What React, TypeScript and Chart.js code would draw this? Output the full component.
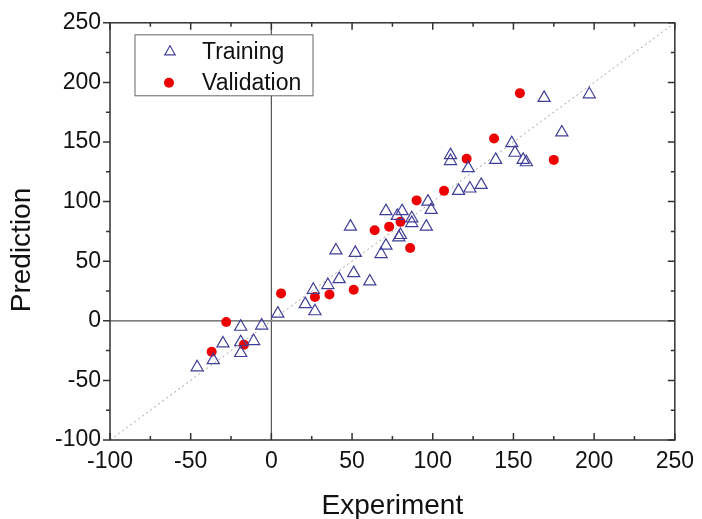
import { useEffect, useRef } from 'react';
import { Chart, registerables } from 'chart.js';

Chart.register(...registerables);

const seriesNames = ['Training', 'Validation'];
const xTitle = 'Experiment';
const yTitle = 'Prediction';

const trainingX = [-46, -36, -30, -19, -19, -19, -11, -6, 4, 21, 27, 26, 35, 42, 40, 49, 51, 61, 52, 68, 71, 79, 80, 71, 78, 81, 87, 87, 96, 99, 97, 169, 197, 180, 149, 151, 156, 158, 139, 111, 111, 122, 116, 123, 130];
const trainingY = [-39, -33, -19, -5, -18, -27, -17, -4, 6, 14, 8, 26, 30, 35, 59, 79, 40, 33, 57, 56, 63, 70, 72, 92, 88, 92, 86, 82, 79, 93, 100, 187, 190, 158, 149, 141, 135, 133, 135, 139, 134, 128, 109, 111, 114];

const validationX = [-28, -37, -17, 6, 27, 36, 51, 64, 73, 80, 86, 90, 107, 121, 138, 154, 175];
const validationY = [-1, -26, -20, 23, 20, 22, 26, 76, 79, 83, 61, 101, 109, 136, 153, 191, 135];

const identityLine = [-100, 250];

const axisMin = -100;
const axisMax = 250;
const minorStep = 25;
const majorStep = 50;

const FONT = '"Liberation Sans", Arial, sans-serif';

const decorPlugin = {
  id: 'decor',
  beforeDatasetsDraw(chart: any) {
    const { ctx, chartArea: ca, scales } = chart;
    const x0 = scales.x.getPixelForValue(0);
    const y0 = scales.y.getPixelForValue(0);
    ctx.save();
    ctx.strokeStyle = '#555';
    ctx.lineWidth = 1.2;
    ctx.beginPath();
    ctx.moveTo(x0, ca.top);
    ctx.lineTo(x0, ca.bottom);
    ctx.moveTo(ca.left, y0);
    ctx.lineTo(ca.right, y0);
    ctx.stroke();
    ctx.restore();
  },
  afterDraw(chart: any) {
    const { ctx, chartArea: ca, scales } = chart;
    ctx.save();
    ctx.strokeStyle = '#333';
    ctx.lineWidth = 1.5;
    ctx.strokeRect(ca.left, ca.top, ca.right - ca.left, ca.bottom - ca.top);
    ctx.beginPath();
    for (let v = axisMin; v <= axisMax; v += minorStep) {
      const len = v % majorStep === 0 ? 7 : 4;
      const px = scales.x.getPixelForValue(v);
      const py = scales.y.getPixelForValue(v);
      ctx.moveTo(px, ca.bottom);
      ctx.lineTo(px, ca.bottom - len);
      ctx.moveTo(px, ca.top);
      ctx.lineTo(px, ca.top + len);
      ctx.moveTo(ca.left, py);
      ctx.lineTo(ca.left - len, py);
      ctx.moveTo(ca.right, py);
      ctx.lineTo(ca.right - len, py);
    }
    ctx.stroke();

    // y-axis title
    ctx.save();
    ctx.translate(22.5, 250);
    ctx.rotate(-Math.PI / 2);
    ctx.fillStyle = '#111';
    ctx.font = `28px ${FONT}`;
    ctx.textAlign = 'center';
    ctx.textBaseline = 'middle';
    ctx.fillText(yTitle, 0, 0);
    ctx.restore();

    // legend box
    const bx = ca.left + 25;
    const by = ca.top + 12;
    const bw = 178;
    const bh = 61;
    ctx.fillStyle = '#fff';
    ctx.fillRect(bx, by, bw, bh);
    ctx.strokeStyle = '#666';
    ctx.lineWidth = 1;
    ctx.strokeRect(bx, by, bw, bh);
    const ds = chart.data.datasets;
    const rows = [
      { d: ds[0], px: bx + 35, py: by + 17, r: 6 },
      { d: ds[1], px: bx + 34, py: by + 48, r: 5 },
    ];
    rows.forEach((row) => {
      ctx.save();
      ctx.strokeStyle = row.d.borderColor;
      ctx.fillStyle = row.d.backgroundColor;
      ctx.lineWidth = 1.2;
      ctx.beginPath();
      if (row.d.pointStyle === 'triangle') {
        for (let k = 0; k < 3; k++) {
          const a = (k * 2 * Math.PI) / 3;
          const xx = row.px + Math.sin(a) * row.r;
          const yy = row.py - Math.cos(a) * row.r;
          if (k === 0) ctx.moveTo(xx, yy);
          else ctx.lineTo(xx, yy);
        }
        ctx.closePath();
        ctx.stroke();
      } else {
        ctx.arc(row.px, row.py, row.r, 0, Math.PI * 2);
        ctx.fill();
      }
      ctx.restore();
      ctx.fillStyle = '#111';
      ctx.font = `23px ${FONT}`;
      ctx.textBaseline = 'middle';
      ctx.textAlign = 'left';
      ctx.fillText(row.d.label, bx + 67, row.py + 1);
    });
    ctx.restore();
  },
};

export default function App() {
  const ref = useRef<HTMLCanvasElement>(null);
  useEffect(() => {
    document.body.style.margin = '0';
    const training = trainingX.map((x, i) => ({ x, y: trainingY[i] }));
    const validation = validationX.map((x, i) => ({ x, y: validationY[i] }));
    const diag = identityLine.map((v) => ({ x: v, y: v }));
    const chart = new Chart(ref.current as HTMLCanvasElement, {
      type: 'scatter',
      data: {
        datasets: [
          {
            label: seriesNames[0],
            data: training,
            pointStyle: 'triangle',
            pointRadius: 7,
            borderColor: '#3f3f98',
            backgroundColor: 'rgba(0,0,0,0)',
            borderWidth: 1.2,
          } as any,
          {
            label: seriesNames[1],
            data: validation,
            pointStyle: 'circle',
            pointRadius: 5,
            borderColor: '#ee0000',
            backgroundColor: '#ee0000',
            borderWidth: 0,
          } as any,
          {
            label: 'y=x',
            type: 'line',
            data: diag,
            showLine: true,
            pointRadius: 0,
            borderColor: '#a0a0a0',
            borderWidth: 1,
            borderDash: [2, 3],
            fill: false,
            order: 5,
          } as any,
        ],
      },
      options: {
        animation: false,
        responsive: false,
        maintainAspectRatio: false,
        layout: { padding: { top: 22, right: 24, left: 0, bottom: 0 } },
        plugins: { legend: { display: false }, tooltip: { enabled: false } },
        scales: {
          x: {
            type: 'linear',
            min: axisMin,
            max: axisMax,
            grid: { display: false, drawTicks: false },
            border: { display: false },
            afterFit: (s: any) => {
              s.height = 79;
            },
            ticks: {
              stepSize: minorStep,
              autoSkip: false,
              maxRotation: 0,
              padding: 8,
              color: '#111',
              font: { family: FONT, size: 23 },
              callback: (v: any) => (Number(v) % majorStep === 0 ? String(v) : ''),
            },
            title: {
              display: true,
              text: xTitle,
              color: '#111',
              font: { family: FONT, size: 28, lineHeight: 0.9 },
              padding: { top: 0, bottom: 0 },
            },
          },
          y: {
            type: 'linear',
            min: axisMin,
            max: axisMax,
            grid: { display: false, drawTicks: false },
            border: { display: false },
            afterFit: (s: any) => {
              s.width = 110;
            },
            ticks: {
              stepSize: minorStep,
              autoSkip: false,
              padding: 9,
              color: '#111',
              font: { family: FONT, size: 23 },
              callback: (v: any) => (Number(v) % majorStep === 0 ? String(v) : ''),
            },
            title: { display: false },
          },
        },
      },
      plugins: [decorPlugin],
    });
    return () => chart.destroy();
  }, []);
  return (
    <div style={{ width: 702, height: 519 }}>
      <canvas ref={ref} width={702} height={519} style={{ display: 'block' }} />
    </div>
  );
}
